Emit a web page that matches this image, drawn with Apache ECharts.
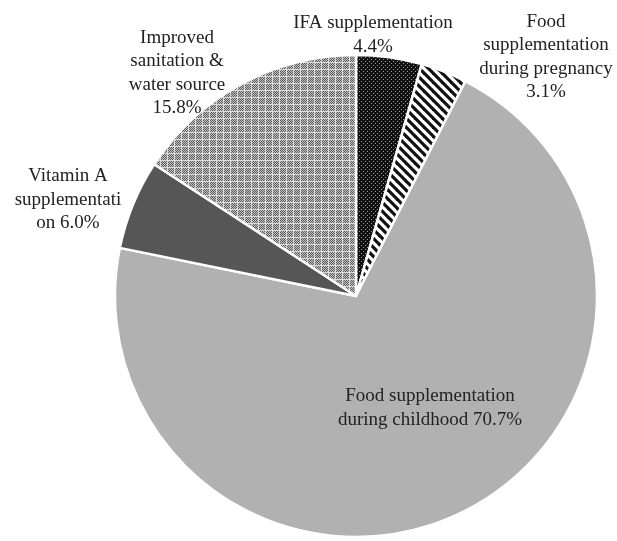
<!DOCTYPE html>
<html>
<head>
<meta charset="utf-8">
<style>
  html, body { margin: 0; padding: 0; background: #fff; }
  #chart { width: 617px; height: 541px; }
</style>
<script src="https://cdn.jsdelivr.net/npm/echarts@6/dist/echarts.min.js"></script>
</head>
<body>
<div id="chart"></div>
<script>
// Share of intervention effect, clockwise from 12 o'clock
const categories = [
  'IFA supplementation',
  'Food\nsupplementation\nduring pregnancy',
  'Food supplementation\nduring childhood',
  'Vitamin A\nsupplementati\non',
  'Improved\nsanitation &\nwater source'
];
const shares = [4.4, 3.1, 70.7, 6.0, 15.8];
// how the percentage attaches to each name in its label
const joiners = ['\n', '\n', ' ', ' ', '\n'];

// label centres (px), per slice
const labelCenters = [[373, 35], [546, 57], [430, 408], [68, 200], [177, 73]];

function makeTile(w, h, draw) {
  const c = document.createElement('canvas');
  c.width = w; c.height = h;
  const ctx = c.getContext('2d');
  draw(ctx, w, h);
  return c;
}

// black with small light dots
const dotTile = makeTile(4, 4, (ctx) => {
  ctx.fillStyle = '#111';
  ctx.fillRect(0, 0, 4, 4);
  ctx.fillStyle = '#9a9a9a';
  ctx.fillRect(1, 1, 1, 1);
  ctx.fillRect(3, 3, 1, 1);
});

// white with black "\" stripes
const stripeTile = makeTile(9, 9, (ctx, w, h) => {
  ctx.fillStyle = '#fff';
  ctx.fillRect(0, 0, w, h);
  ctx.strokeStyle = '#111';
  ctx.lineWidth = 3.2;
  for (let k = -1; k <= 1; k++) {
    ctx.beginPath();
    ctx.moveTo(k * w - 2, -2);
    ctx.lineTo(k * w + w + 2, h + 2);
    ctx.stroke();
  }
});

// grey checker weave with faint light grid lines
const hatchTile = makeTile(7, 7, (ctx, w, h) => {
  for (let y = 0; y < h; y++) {
    for (let x = 0; x < w; x++) {
      if (x === w - 1 || y === h - 1) ctx.fillStyle = '#dcdcdc';
      else if ((x + y) % 2 === 0) ctx.fillStyle = '#c2c2c2';
      else ctx.fillStyle = '#5c5c5c';
      ctx.fillRect(x, y, 1, 1);
    }
  }
});

const fills = [
  { image: dotTile, repeat: 'repeat' },
  { image: stripeTile, repeat: 'repeat' },
  '#b1b1b1',
  '#565656',
  { image: hatchTile, repeat: 'repeat' }
];

const seriesData = categories.map((name, i) => ({
  name: name,
  value: shares[i],
  itemStyle: { color: fills[i] },
  label: { position: i === 2 ? 'inside' : 'outside' }
}));

const chart = echarts.init(document.getElementById('chart'), null, { renderer: 'canvas' });
chart.setOption({
  animation: false,
  backgroundColor: '#fff',
  series: [{
    type: 'pie',
    center: [356, 296],
    radius: 241,
    startAngle: 90,
    clockwise: true,
    avoidLabelOverlap: false,
    data: seriesData,
    itemStyle: { borderColor: '#fff', borderWidth: 2.5 },
    emphasis: { disabled: true },
    labelLine: { show: false },
    label: {
      show: true,
      fontFamily: '"Liberation Serif", "DejaVu Serif", serif',
      fontSize: 19,
      lineHeight: 23.5,
      color: '#222',
      align: 'center',
      formatter: (p) => p.name + joiners[p.dataIndex] + p.value.toFixed(1) + '%'
    },
    labelLayout: (p) => ({
      x: labelCenters[p.dataIndex][0],
      y: labelCenters[p.dataIndex][1],
      align: 'center',
      verticalAlign: 'middle'
    })
  }]
});
</script>
</body>
</html>
